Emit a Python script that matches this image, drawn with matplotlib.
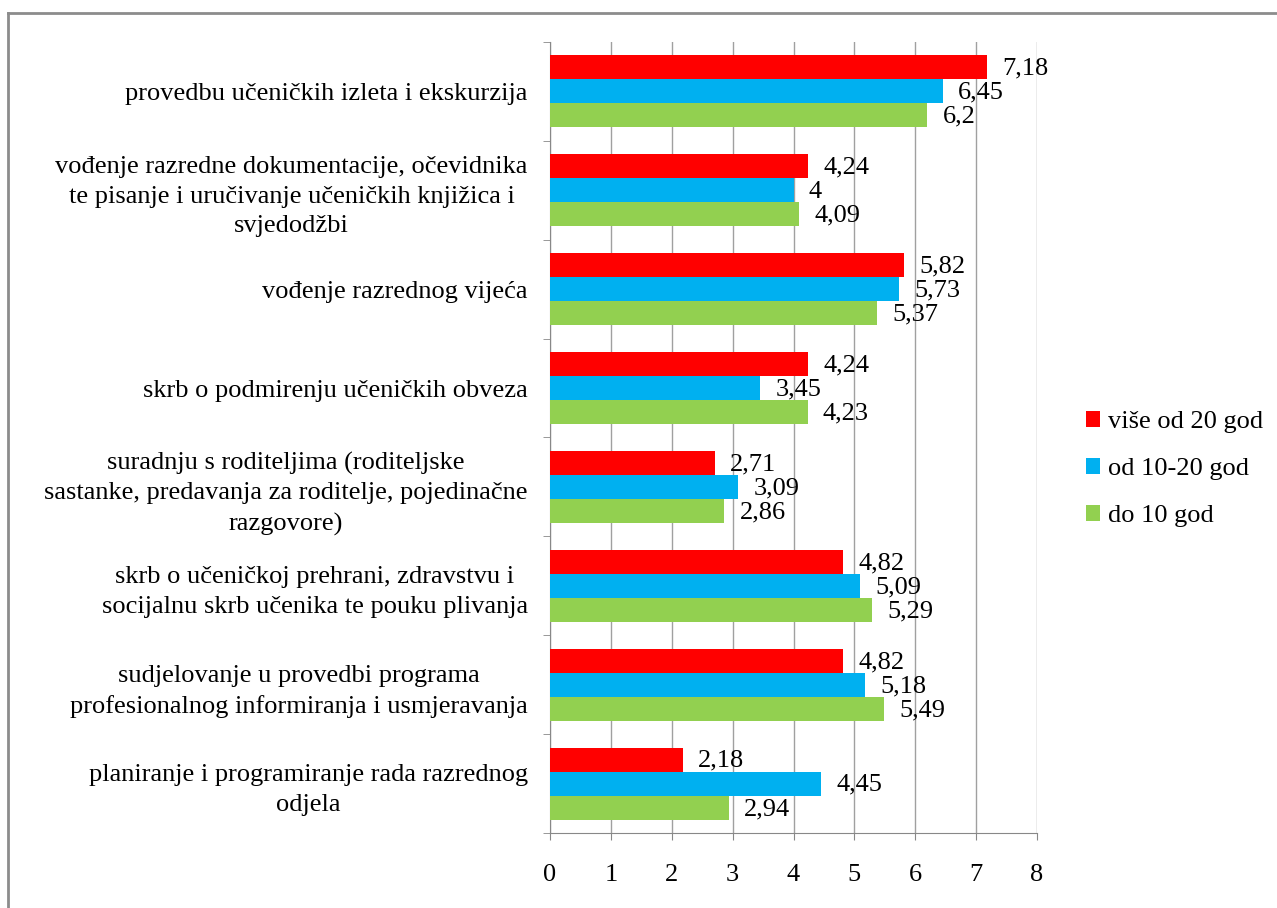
import numpy as np
import matplotlib
matplotlib.use('Agg')
import matplotlib.pyplot as plt
from matplotlib.lines import Line2D

plt.rcParams['font.family'] = ['Liberation Serif', 'DejaVu Serif']

# categories from top to bottom
categories = [
    'provedbu učeničkih izleta i ekskurzija',
    'vođenje razredne dokumentacije, očevidnika\nte pisanje i uručivanje učeničkih knjižica i\nsvjedodžbi',
    'vođenje razrednog vijeća',
    'skrb o podmirenju učeničkih obveza',
    'suradnju s roditeljima (roditeljske\nsastanke, predavanja za roditelje, pojedinačne\nrazgovore)',
    'skrb o učeničkoj prehrani, zdravstvu i\nsocijalnu skrb učenika te pouku plivanja',
    'sudjelovanje u provedbi programa\nprofesionalnog informiranja i usmjeravanja',
    'planiranje i programiranje rada razrednog\nodjela',
]
vise_od_20 = [7.18, 4.24, 5.82, 4.24, 2.71, 4.82, 4.82, 2.18]
od_10_20 = [6.45, 4.00, 5.73, 3.45, 3.09, 5.09, 5.18, 4.45]
do_10 = [6.20, 4.09, 5.37, 4.23, 2.86, 5.29, 5.49, 2.94]
series_names = ['više od 20 god', 'od 10-20 god', 'do 10 god']
colors = ['#FF0000', '#00B0F0', '#92D050']

fs = 19
fig = plt.figure(figsize=(12.77, 9.08), dpi=100)
ax = fig.add_axes([550 / 1277, 1 - 833 / 908, 487 / 1277, 791 / 908])

y = np.arange(len(categories))
h = 0.243
series = [vise_od_20, od_10_20, do_10]
for i, (vals, c, name) in enumerate(zip(series, colors, series_names)):
    pos = y + (i - 1) * h
    ax.barh(pos, vals, height=h, color=c, label=name, zorder=3)
    for p, v in zip(pos, vals):
        txt = '{:g}'.format(v).replace('.', ',')
        ax.annotate(txt, (v, p), xytext=(11, -1), textcoords='offset points',
                    ha='left', va='center', fontsize=fs, zorder=4)

ax.set_xlim(0, 8)
ax.set_ylim(len(categories) - 0.5, -0.5)
ax.set_xticks(range(0, 9))
ax.tick_params(axis='x', labelsize=fs, length=5, color='#888888', pad=17)
ax.grid(axis='x', color='#a0a0a0', linewidth=1, zorder=0)

ax.set_yticks(y)
ax.set_yticklabels(categories, fontsize=fs, multialignment='center', linespacing=1.45)
ax.set_yticks(np.arange(len(categories) + 1) - 0.5, minor=True)
ax.tick_params(axis='y', which='major', length=0, pad=16)
ax.tick_params(axis='y', which='minor', length=5, color='#888888')

for s in ['top', 'right']:
    ax.spines[s].set_visible(False)
for s in ['left', 'bottom']:
    ax.spines[s].set_color('#888888')

fig.legend(loc='center left', bbox_to_anchor=(1075 / 1277, 1 - 469 / 908),
           frameon=False, fontsize=fs, handlelength=0.55, handleheight=0.55,
           handletextpad=0.3, labelspacing=0.93, borderaxespad=0)

# outer frame (only left and top edges visible)
fig.add_artist(Line2D([8 / 1277, 8 / 1277], [0, 1 - 13 / 908], transform=fig.transFigure,
                      color='#8c8c8c', linewidth=2))
fig.add_artist(Line2D([8 / 1277, 1], [1 - 13 / 908, 1 - 13 / 908], transform=fig.transFigure,
                      color='#8c8c8c', linewidth=2))

fig.savefig('out.png', dpi=100)
